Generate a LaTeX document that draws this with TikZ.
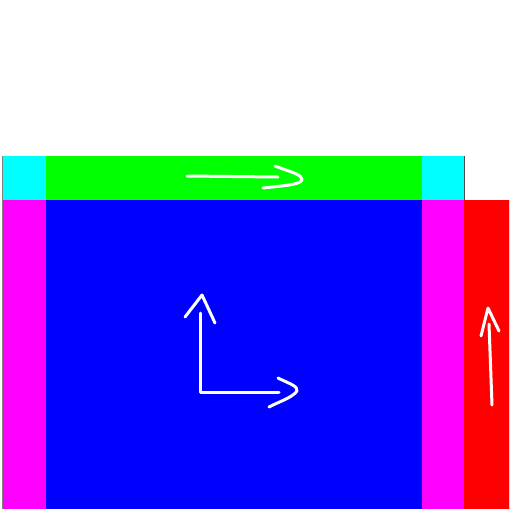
\documentclass[tikz,border=0pt]{standalone}
\definecolor{cyanX}{RGB}{0,255,255}
\definecolor{magentaX}{RGB}{255,0,255}
\definecolor{greenX}{RGB}{0,255,0}
\definecolor{blueX}{RGB}{0,0,255}
\definecolor{redX}{RGB}{255,0,0}
\begin{document}
\begin{tikzpicture}[x=1pt,y=-1pt,
  stroke/.style={white,line width=3pt,line cap=round,line join=round}]
\useasboundingbox (0,0) rectangle (512,512);
\fill[white] (0,0) rectangle (512,512);
% tiles
\fill[cyanX] (3,156) rectangle (46,200);
\fill[greenX] (46,156) rectangle (422,200);
\fill[cyanX] (422,156) rectangle (464,200);
\fill[magentaX] (3,200) rectangle (46,509);
\fill[blueX] (46,200) rectangle (422,509);
\fill[magentaX] (422,200) rectangle (464,509);
\fill[redX] (464,200) rectangle (509,509);
% edges
\draw[gray,line width=1pt] (2.5,156) -- (2.5,509);
\draw[black!70,line width=1pt] (464.5,156) -- (464.5,200);
\draw[black!15,line width=0.8pt] (509.5,200) -- (509.5,509);
% green arrow
\draw[stroke] (187,176) -- (278,177);
\draw[stroke] (275,166) .. controls (290,172) and (302,174) .. (302,180) .. controls (300,185) and (280,186) .. (263,188);
% blue axes
\draw[stroke] (200,313) -- (200,392) -- (279,392);
\draw[stroke] (185,317) -- (202,295) -- (215,323);
\draw[stroke] (278,378) .. controls (290,384) and (298,386) .. (297,391) .. controls (292,398) and (278,402) .. (269,407);
% red arrow
\draw[stroke] (492,405) -- (489,324);
\draw[stroke] (481,336) -- (488,308) -- (499,331);
\end{tikzpicture}
\end{document}
